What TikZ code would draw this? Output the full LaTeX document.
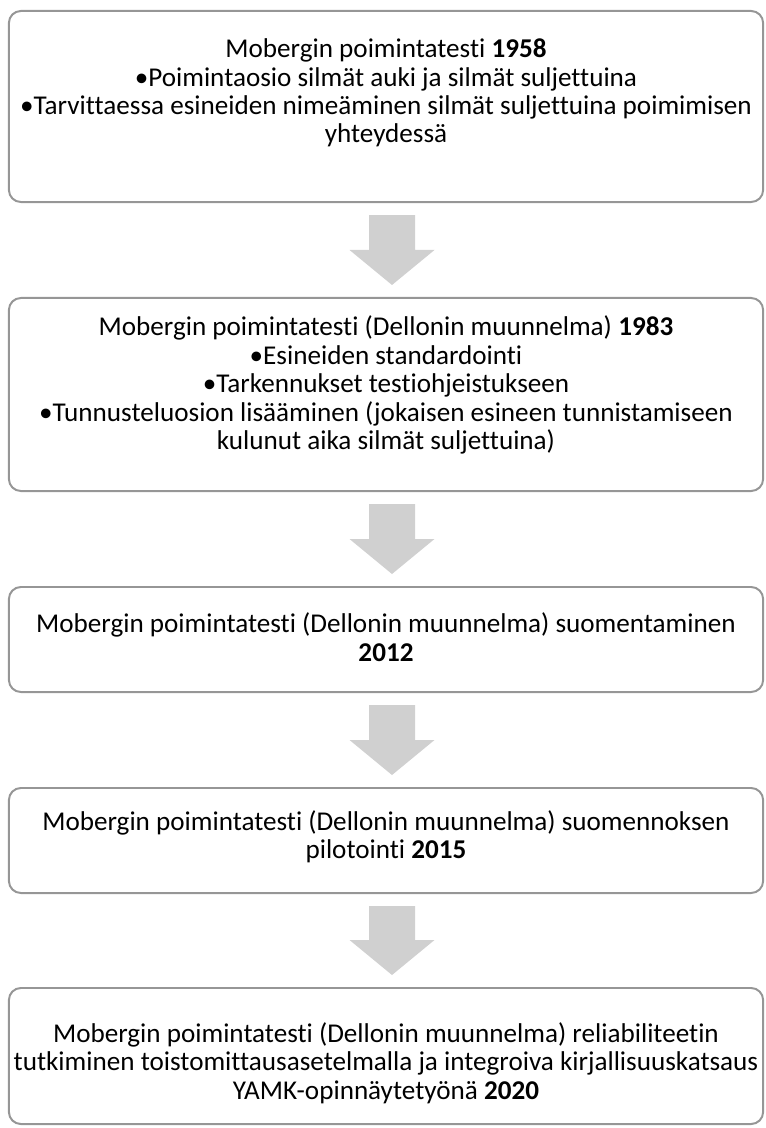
\documentclass[tikz,border=0pt]{standalone}
\usepackage{fontspec}
\setmainfont{Carlito}[Ligatures=NoCommon]
\usetikzlibrary{calc,positioning}

\definecolor{boxline}{RGB}{150,150,150}
\definecolor{arrowfill}{RGB}{208,208,208}

\tikzset{
    stage/.style={rectangle, draw=boxline, line width=1.4pt, rounded corners=3mm,
        minimum width=18.85cm, inner sep=0pt},
    stagetext/.style={align=center, inner sep=0pt,
        font=\fontsize{19.3}{20.2}\selectfont},
    blockarrow/.style={fill=arrowfill}
}

\begin{document}
\begin{tikzpicture}[x=0.025cm,y=-0.025cm]

        \useasboundingbox (0,0) rectangle (765,1128);

        % the five stages
        \node [stage,minimum height=4.775cm] (s1) at (386,106.5) {};
        \node [stage,minimum height=4.825cm] (s2) at (386,394.5) {};
        \node [stage,minimum height=2.625cm] (s3) at (386,639.5) {};
        \node [stage,minimum height=2.625cm] (s4) at (386,840.5) {};
        \node [stage,minimum height=3.4cm] (s5) at (386,1056) {};

        \node [stagetext] (t1) at (386,93)
            {Mobergin poimintatesti \textbf{1958}\\
             \textbullet Poimintaosio silmät auki ja silmät suljettuina\\
             \textbullet Tarvittaessa esineiden nimeäminen silmät suljettuina poimimisen\\
             yhteydessä};

        \node [stagetext] (t2) at (386,385)
            {Mobergin poimintatesti (Dellonin muunnelma) \textbf{1983}\\
             \textbullet Esineiden standardointi\\
             \textbullet Tarkennukset testiohjeistukseen\\
             \textbullet Tunnusteluosion lisääminen (jokaisen esineen tunnistamiseen\\
             kulunut aika silmät suljettuina)};

        \node [stagetext] (t3) at (386,637)
            {Mobergin poimintatesti (Dellonin muunnelma) suomentaminen\\
             \textbf{2012}};

        \node [stagetext] (t4) at (386,837)
            {Mobergin poimintatesti (Dellonin muunnelma) suomennoksen\\
             pilotointi \textbf{2015}};

        \node [stagetext] (t5) at (386,1063)
            {Mobergin poimintatesti (Dellonin muunnelma) reliabiliteetin\\
             tutkiminen toistomittausasetelmalla ja integroiva kirjallisuuskatsaus\\
             YAMK-opinnäytetyönä \textbf{2020}};

        % block arrows between the stages
        \foreach \a/\b in {s1/s2,s2/s3,s3/s4,s4/s5} {
            \coordinate (top) at ($(\a.south)+(6,12)$);
            \coordinate (tip) at ($(\b.north)+(6,-12)$);
            \fill [blockarrow] ($(top)+(-23,0)$) -- ($(top)+(23,0)$)
                -- ($(tip)+(23,-35)$) -- ($(tip)+(42.5,-35)$) -- (tip)
                -- ($(tip)+(-42.5,-35)$) -- ($(tip)+(-23,-35)$) -- cycle;
        }
    \end{tikzpicture}
\end{document}
